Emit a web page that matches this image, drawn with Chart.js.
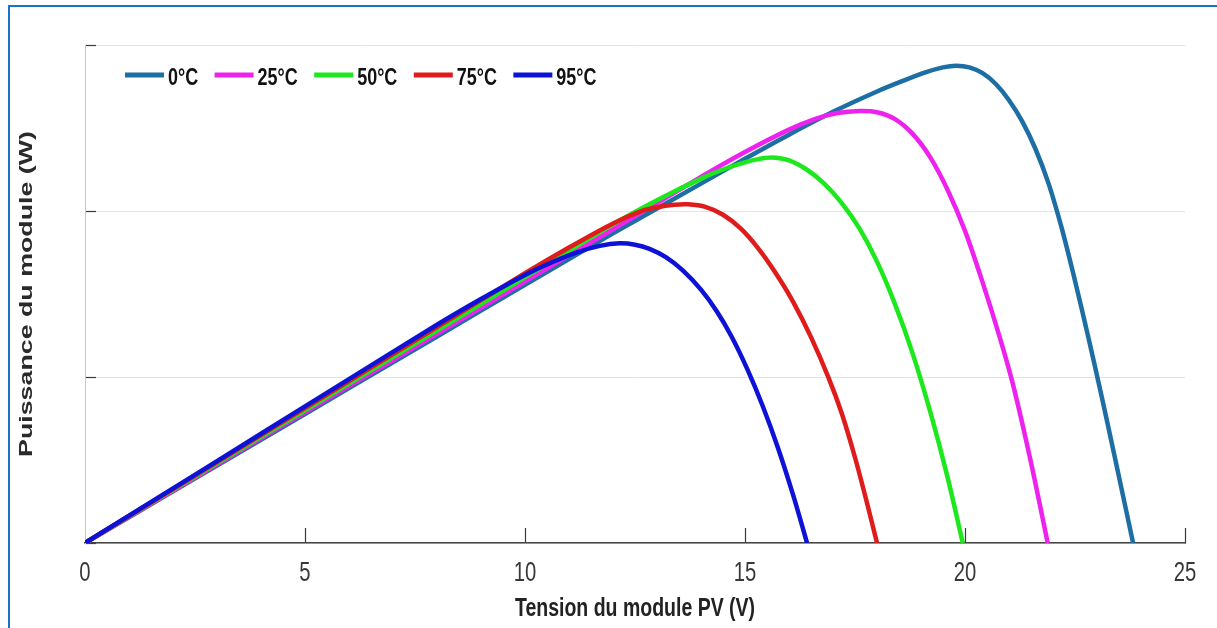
<!DOCTYPE html>
<html lang="fr">
<head>
<meta charset="utf-8">
<title>Puissance du module PV selon la température</title>
<script src="https://cdn.jsdelivr.net/npm/chart.js@4.4.1/dist/chart.umd.min.js"></script>
<style>
  html, body { margin: 0; padding: 0; background: #ffffff; }
  #wrap { position: relative; width: 1217px; height: 628px; overflow: hidden; }
  #cv { display: block; }
  #frame {
    position: absolute; left: 8px; top: 5px; right: -10px; bottom: -10px;
    border-left: 2px solid #1a74c6; border-top: 2px solid #1a74c6;
    pointer-events: none;
  }
</style>
</head>
<body>
<div id="wrap">
  <canvas id="cv" width="1217" height="628"></canvas>
  <div id="frame"></div>
</div>
<script>
// P-V curves of the module at five cell temperatures (V in volts, P in watts)
const temperatures = ['0°C', '25°C', '50°C', '75°C', '95°C'];
const curveColors  = ['#1c6ea4', '#ee22ee', '#1de81d', '#e01b1b', '#0d12d6'];

const v0 = [0, 2, 4, 6, 8, 10, 12, 14, 15, 16, 17, 18, 18.6, 19.1, 19.5, 19.8, 20.1, 20.4, 20.7, 21.0, 21.3, 21.6, 21.9, 22.2, 22.5, 22.8, 23.1, 23.4, 23.82];
const p0 = [0, 6.22, 12.44, 18.66, 24.88, 31.1, 37.3, 43.3, 46.3, 49.2, 51.95, 54.4, 55.7, 56.7, 57.3, 57.5, 57.3, 56.6, 55.3, 53.35, 50.8, 47.5, 43.3, 37.9, 31.6, 24.85, 17.8, 10.45, 0];

const v25 = [0, 2, 4, 6, 8, 10, 12, 14, 15, 16, 16.6, 17.1, 17.6, 18.0, 18.4, 18.8, 19.2, 19.6, 20.0, 20.4, 20.8, 21.1, 21.5, 21.88];
const p25 = [0, 6.3, 12.6, 18.9, 25.2, 31.5, 37.8, 44.1, 47.1, 49.8, 51.1, 51.8, 52.05, 51.9, 51.1, 49.35, 46.55, 42.6, 37.6, 31.4, 24.6, 18.9, 9.7, 0];

const v50 = [0, 2, 4, 6, 8, 10, 12, 13, 14, 14.5, 15.0, 15.3, 15.6, 16.0, 16.4, 16.8, 17.2, 17.6, 18.0, 18.4, 18.8, 19.2, 19.6, 19.95];
const p50 = [0, 6.4, 12.8, 19.2, 25.6, 32.0, 38.4, 41.3, 43.9, 45.0, 45.85, 46.25, 46.45, 46.1, 45.0, 43.3, 40.95, 37.9, 33.9, 28.9, 23.0, 16.0, 8.0, 0];

const v75 = [0, 2, 4, 6, 8, 10, 11, 12, 12.6, 13.0, 13.4, 13.7, 14.1, 14.5, 14.9, 15.3, 15.7, 16.1, 16.5, 16.9, 17.2, 17.5, 17.75, 18.0];
const p75 = [0, 6.5, 13.0, 19.5, 26.0, 32.5, 35.6, 38.5, 39.9, 40.45, 40.75, 40.8, 40.5, 39.55, 37.9, 35.5, 32.5, 29.0, 24.8, 19.9, 15.6, 10.3, 5.3, 0];

const v95 = [0, 2, 4, 6, 8, 9, 10, 10.6, 11.2, 11.7, 12.15, 12.5, 12.83, 13.2, 13.58, 14.0, 14.35, 14.7, 15.05, 15.4, 15.75, 16.1, 16.41];
const p95 = [0, 6.58, 13.16, 19.74, 26.3, 29.4, 32.3, 33.8, 35.05, 35.8, 36.1, 35.93, 35.43, 34.43, 32.87, 30.52, 27.97, 24.82, 20.97, 16.53, 11.45, 5.67, 0];

const voltages = [v0, v25, v50, v75, v95];
const powers   = [p0, p25, p50, p75, p95];

const xTickValues = [0, 5, 10, 15, 20, 25];
const yTickValues = [0, 20, 40, 60];

const sans = "'Liberation Sans', Arial, Helvetica, sans-serif";

// Text can be drawn with a horizontal scale factor (tall, narrow lettering)
function enableTextScale(ctx) {
  const orig = ctx.fillText;
  ctx.fillText = function (text, x, y, maxWidth) {
    const k = this.__textScaleX;
    if (!k || k === 1) return orig.call(this, text, x, y, maxWidth);
    this.save();
    this.translate(x, y);
    this.scale(k, 1);
    orig.call(this, text, 0, 0);
    this.restore();
  };
}

// Applies the text scale to the labels and titles of chosen scales
const scaleTextStretch = {
  id: 'scaleTextStretch',
  beforeDraw(chart, args, opts) {
    Object.keys(opts.scales || {}).forEach(id => {
      const s = chart.scales[id];
      if (!s || s.__stretched) return;
      const factors = opts.scales[id];
      ['drawLabels', 'drawTitle'].forEach(fn => {
        if (factors[fn] === undefined) return;
        const orig = s[fn];
        s[fn] = function (...a) {
          const c = this.ctx;
          const prev = c.__textScaleX;
          c.__textScaleX = factors[fn];
          try { orig.apply(this, a); } finally { c.__textScaleX = prev; }
        };
      });
      s.__stretched = true;
    });
  }
};

// Legend drawn inside the plot area, in one row at the top left
const insideLegend = {
  id: 'insideLegend',
  afterDatasetsDraw(chart, args, opts) {
    const ctx = chart.ctx;
    ctx.save();
    ctx.font = opts.font;
    ctx.textBaseline = 'middle';
    ctx.textAlign = 'left';
    let x = chart.chartArea.left + opts.offsetX;
    const y = chart.chartArea.top + opts.offsetY;
    chart.data.datasets.forEach(ds => {
      ctx.fillStyle = ds.borderColor;
      ctx.fillRect(x, y - opts.sampleHeight / 2, opts.sampleWidth, opts.sampleHeight);
      const tx = x + opts.sampleWidth + opts.textGap;
      ctx.fillStyle = opts.color;
      ctx.__textScaleX = opts.scaleX;
      ctx.fillText(ds.label, tx, y + opts.textShift);
      ctx.__textScaleX = 1;
      x = tx + ctx.measureText(ds.label).width * opts.scaleX + opts.itemGap;
    });
    ctx.restore();
  }
};

const canvas = document.getElementById('cv');
enableTextScale(canvas.getContext('2d'));

const datasets = temperatures.map((label, i) => ({
  label,
  data: voltages[i].map((v, k) => ({ x: v, y: powers[i][k] })),
  borderColor: curveColors[i],
  backgroundColor: curveColors[i],
  borderWidth: 4.5,
  pointRadius: 0,
  fill: false,
  tension: 0.3,
  order: temperatures.length - 1 - i
}));

new Chart(canvas, {
  type: 'line',
  data: { datasets },
  plugins: [insideLegend, scaleTextStretch],
  options: {
    responsive: false,
    animation: false,
    devicePixelRatio: 1,
    layout: { padding: { left: 0, top: 45, right: 32, bottom: 0 } },
    plugins: {
      legend: { display: false },
      tooltip: { enabled: false },
      insideLegend: {
        font: "bold 23px " + sans,
        color: '#111111',
        scaleX: 0.78,
        offsetX: 40, offsetY: 30,
        sampleWidth: 39, sampleHeight: 5,
        textGap: 4, itemGap: 16.5, textShift: 4
      },
      scaleTextStretch: {
        scales: {
          x: { drawLabels: 0.75, drawTitle: 0.75 },
          y: { drawTitle: 1.41 }
        }
      }
    },
    scales: {
      x: {
        type: 'linear',
        min: 0, max: 25,
        afterBuildTicks: s => { s.ticks = xTickValues.map(value => ({ value })); },
        afterFit: s => { s.height = 85; s.paddingLeft = 0; s.paddingRight = 0; },
        grid: {
          drawOnChartArea: false,
          drawTicks: true,
          tickLength: -15,
          tickWidth: 1.2,
          tickColor: ctx => (ctx.index === 0 ? 'rgba(0,0,0,0)' : '#3a3a3a')
        },
        border: { display: true, color: '#454545', width: 1.5 },
        ticks: {
          padding: 29,
          color: '#383838',
          font: { family: sans, size: 27 },
          maxRotation: 0,
          autoSkip: false
        },
        title: {
          display: true,
          text: 'Tension du module PV (V)',
          color: '#222222',
          font: { family: sans, size: 26, weight: 'bold' },
          padding: { top: 0, bottom: 4 }
        }
      },
      y: {
        type: 'linear',
        min: 0, max: 60,
        afterBuildTicks: s => { s.ticks = yTickValues.map(value => ({ value })); },
        afterFit: s => { s.width = 85; },
        grid: {
          color: '#e3e3e3',
          lineWidth: 1,
          drawTicks: true,
          tickLength: -11,
          tickWidth: 1.2,
          tickColor: '#3a3a3a'
        },
        border: { display: true, color: '#c8c8c8', width: 1 },
        ticks: { display: false },
        title: {
          display: true,
          text: 'Puissance du module (W)',
          color: '#2a2a2a',
          font: { family: sans, size: 19, weight: 'bold' },
          padding: { top: 15.5, bottom: 0 }
        }
      }
    }
  }
});
</script>
</body>
</html>
